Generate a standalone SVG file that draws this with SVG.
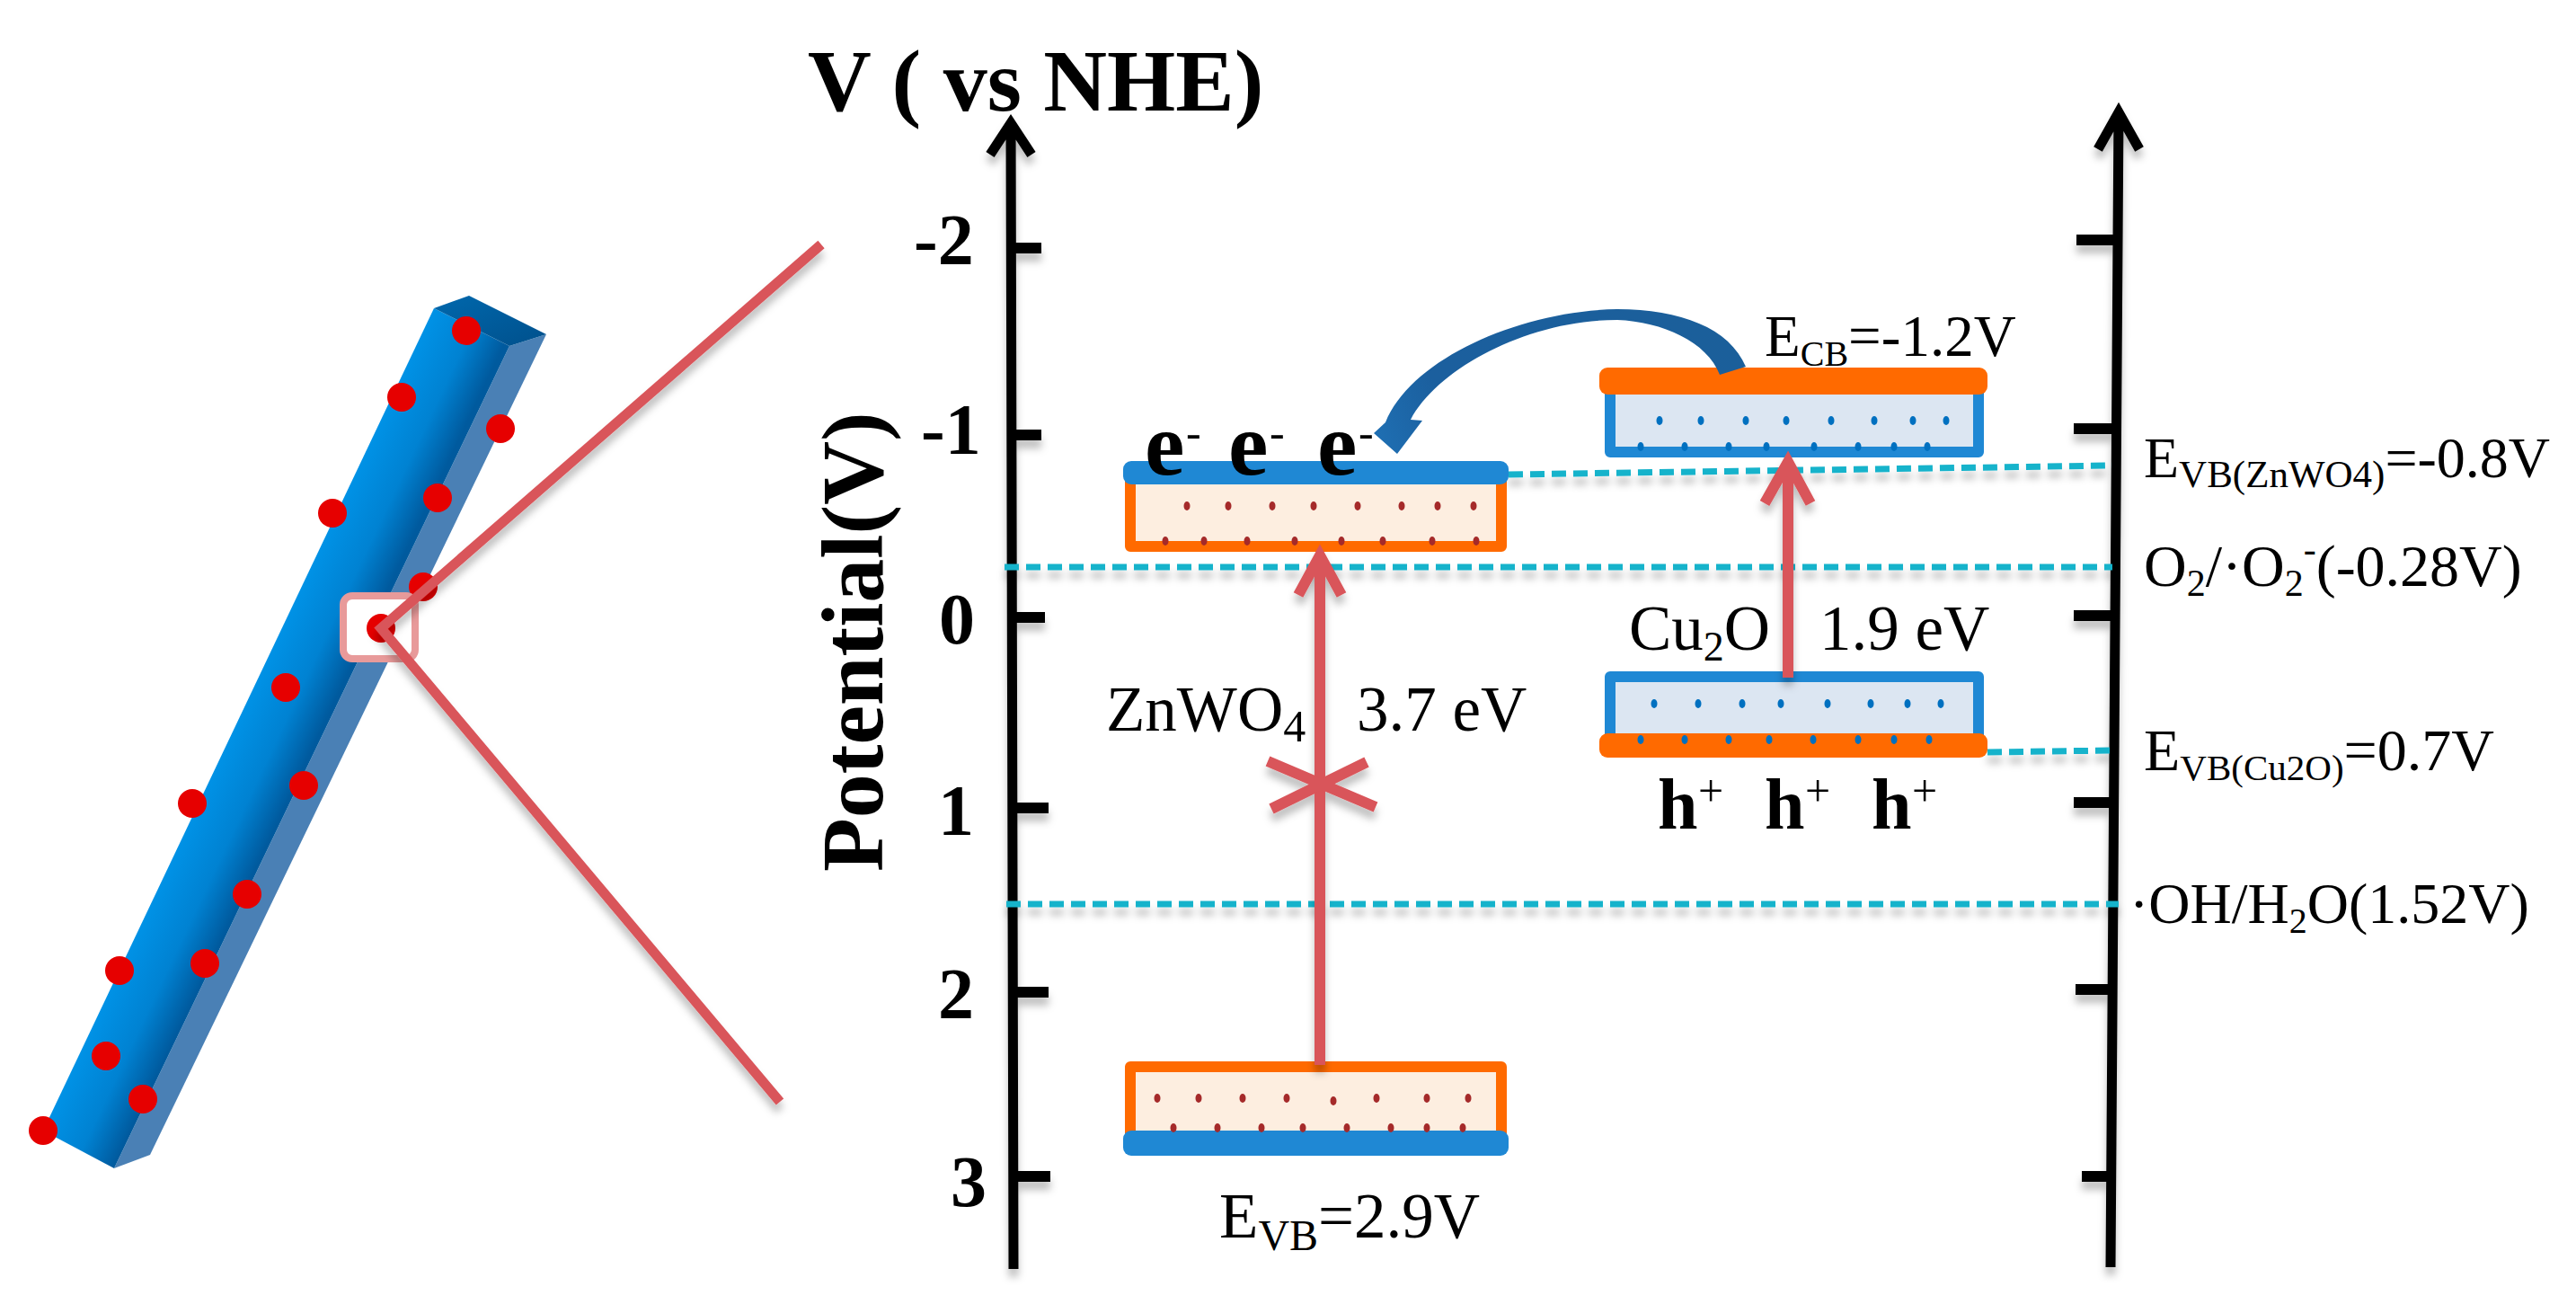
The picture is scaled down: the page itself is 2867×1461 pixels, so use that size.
<svg xmlns="http://www.w3.org/2000/svg" width="2867" height="1461" viewBox="0 0 2867 1461">
<style>
text{font-family:"Liberation Serif","Times New Roman",serif;fill:#000}
.b{font-weight:bold}
.t{font-size:80px;font-weight:bold}
.l{font-size:71px}
.e{font-size:100px;font-weight:bold}
.h{font-size:80px;font-weight:bold}
.axis{stroke:#000;stroke-width:11;fill:none}
.tick{stroke:#000;stroke-width:12;fill:none}
.red{stroke:#d9555a;stroke-width:12;fill:none}
.leader{stroke:#d9555a;stroke-width:11;fill:none}
.dash{stroke:#17b3cb;stroke-width:7;stroke-dasharray:16 8;fill:none}
.dot{fill:#e60000}
.o{fill:#ff6a00}
.bl{fill:#1f88d4}
.d1{fill:#a52a2a}
.d2{fill:#0070c0}
</style>
<defs>
<linearGradient id="rod" gradientUnits="userSpaceOnUse" x1="265" y1="800" x2="345" y2="838"><stop offset="0" stop-color="#0092e6"/><stop offset=".55" stop-color="#0082d2"/><stop offset="1" stop-color="#005a9e"/></linearGradient>
<linearGradient id="top" x1="0" y1="0" x2="1" y2="1"><stop offset="0" stop-color="#0068ad"/><stop offset="1" stop-color="#00508c"/></linearGradient>
<linearGradient id="curve" gradientUnits="userSpaceOnUse" x1="1529" y1="500" x2="1943" y2="350"><stop offset="0" stop-color="#1f70b4"/><stop offset=".2" stop-color="#1b5f9e"/><stop offset="1" stop-color="#1b5f9a"/></linearGradient>
<filter id="shl" x="-5" y="-5" width="3000" height="1500" filterUnits="userSpaceOnUse" primitiveUnits="userSpaceOnUse"><feDropShadow dx="0" dy="9" stdDeviation="4" flood-color="#000" flood-opacity=".25"/></filter>
</defs>
<rect width="2867" height="1461" fill="#fff"/>

<g id="nanorod">
<polygon points="567,385 608,372 167,1285 127,1300" fill="#4a80b5"/>
<polygon points="483,343 567,385 127,1300 48,1258" fill="url(#rod)"/>
<polygon points="483,343 522,329 608,372 567,385" fill="url(#top)"/>
<g class="dot">
<circle cx="519" cy="368" r="16"/><circle cx="447" cy="442" r="16"/><circle cx="557" cy="477" r="16"/><circle cx="487" cy="554" r="16"/><circle cx="370" cy="571" r="16"/><circle cx="471" cy="653" r="16"/><circle cx="318" cy="765" r="16"/><circle cx="338" cy="874" r="16"/><circle cx="214" cy="894" r="16"/><circle cx="275" cy="995" r="16"/><circle cx="133" cy="1080" r="16"/><circle cx="228" cy="1072" r="16"/><circle cx="118" cy="1175" r="16"/><circle cx="159" cy="1223" r="16"/><circle cx="48" cy="1258" r="16"/>
</g>
<rect x="382" y="663" width="80" height="70" rx="10" fill="#fff" stroke="#e89a9a" stroke-width="8"/>
<circle class="dot" cx="424" cy="699" r="16"/>
</g>

<g id="connectors">
<path class="leader" d="M914,272 L424,699 L868,1226" filter="url(#shl)"/>
<g id="axis-left" filter="url(#shl)">
<path class="axis" d="M1125,137 L1128,1412 M1102,172 L1125,137 L1148,172"/>
<path class="tick" d="M1128,276 H1159 M1128,484 H1159 M1128,687 H1163 M1128,899 H1167 M1128,1104 H1167 M1128,1309 H1169"/>
</g>
<g id="axis-right" filter="url(#shl)">
<path class="axis" d="M2358,125 L2349,1410 M2335,166 L2358,125 L2381,166"/>
<path class="tick" d="M2311,267 H2357 M2308,477 H2355 M2308,685 H2354 M2308,893 H2352 M2310,1101 H2351 M2317,1309 H2350"/>
</g>
<g filter="url(#shl)">
<path class="dash" d="M1679,528 L2351,518"/>
<path class="dash" d="M1118,631 H2351"/>
<path class="dash" d="M2212,837 L2351,835"/>
<path class="dash" d="M1120,1006 H2358"/>
</g>
</g>

<g id="band-znwo4-cb">
<rect x="1258" y="530" width="413" height="78" fill="#fdeee0" stroke="#ff6a00" stroke-width="12" stroke-linejoin="round"/>
<g class="d1"><ellipse cx="1321" cy="563" rx="3.5" ry="5"/><ellipse cx="1367" cy="563" rx="3.5" ry="5"/><ellipse cx="1416" cy="563" rx="3.5" ry="5"/><ellipse cx="1462" cy="563" rx="3.5" ry="5"/><ellipse cx="1511" cy="563" rx="3.5" ry="5"/><ellipse cx="1560" cy="563" rx="3.5" ry="5"/><ellipse cx="1600" cy="563" rx="3.5" ry="5"/><ellipse cx="1640" cy="563" rx="3.5" ry="5"/><ellipse cx="1297" cy="602" rx="3.5" ry="5"/><ellipse cx="1340" cy="602" rx="3.5" ry="5"/><ellipse cx="1388" cy="602" rx="3.5" ry="5"/><ellipse cx="1441" cy="602" rx="3.5" ry="5"/><ellipse cx="1493" cy="602" rx="3.5" ry="5"/><ellipse cx="1539" cy="602" rx="3.5" ry="5"/><ellipse cx="1594" cy="602" rx="3.5" ry="5"/><ellipse cx="1643" cy="602" rx="3.5" ry="5"/></g>
<rect class="bl" x="1250" y="513" width="429" height="26" rx="9"/>
</g>

<g id="band-znwo4-vb">
<rect x="1258" y="1187" width="413" height="85" fill="#fdeee0" stroke="#ff6a00" stroke-width="12" stroke-linejoin="round"/>
<g class="d1"><ellipse cx="1288" cy="1222" rx="3.5" ry="5"/><ellipse cx="1334" cy="1222" rx="3.5" ry="5"/><ellipse cx="1383" cy="1222" rx="3.5" ry="5"/><ellipse cx="1432" cy="1222" rx="3.5" ry="5"/><ellipse cx="1484" cy="1225" rx="3.5" ry="5"/><ellipse cx="1532" cy="1222" rx="3.5" ry="5"/><ellipse cx="1588" cy="1222" rx="3.5" ry="5"/><ellipse cx="1634" cy="1222" rx="3.5" ry="5"/></g>
<rect class="bl" x="1250" y="1258" width="429" height="28" rx="9"/>
<g class="d1"><ellipse cx="1306" cy="1255" rx="3.5" ry="5"/><ellipse cx="1355" cy="1255" rx="3.5" ry="5"/><ellipse cx="1404" cy="1255" rx="3.5" ry="5"/><ellipse cx="1450" cy="1255" rx="3.5" ry="5"/><ellipse cx="1499" cy="1255" rx="3.5" ry="5"/><ellipse cx="1548" cy="1255" rx="3.5" ry="5"/><ellipse cx="1588" cy="1255" rx="3.5" ry="5"/><ellipse cx="1628" cy="1255" rx="3.5" ry="5"/></g>
</g>

<g id="band-cu2o-cb">
<rect x="1792" y="425" width="410" height="78" fill="#dce6f2" stroke="#1f88d4" stroke-width="12" stroke-linejoin="round"/>
<g class="d2"><ellipse cx="1847" cy="468" rx="3.5" ry="5"/><ellipse cx="1893" cy="468" rx="3.5" ry="5"/><ellipse cx="1943" cy="468" rx="3.5" ry="5"/><ellipse cx="1988" cy="468" rx="3.5" ry="5"/><ellipse cx="2038" cy="468" rx="3.5" ry="5"/><ellipse cx="2086" cy="468" rx="3.5" ry="5"/><ellipse cx="2129" cy="468" rx="3.5" ry="5"/><ellipse cx="2166" cy="468" rx="3.5" ry="5"/><ellipse cx="1826" cy="497" rx="3.5" ry="5"/><ellipse cx="1875" cy="497" rx="3.5" ry="5"/><ellipse cx="1924" cy="497" rx="3.5" ry="5"/><ellipse cx="1966" cy="497" rx="3.5" ry="5"/><ellipse cx="2019" cy="497" rx="3.5" ry="5"/><ellipse cx="2068" cy="497" rx="3.5" ry="5"/><ellipse cx="2108" cy="497" rx="3.5" ry="5"/><ellipse cx="2145" cy="497" rx="3.5" ry="5"/></g>
<rect class="o" x="1780" y="409" width="432" height="30" rx="9"/>
</g>

<g id="band-cu2o-vb">
<rect x="1792" y="753" width="410" height="74" fill="#dce6f2" stroke="#1f88d4" stroke-width="12" stroke-linejoin="round"/>
<g class="d2"><ellipse cx="1841" cy="783" rx="3.5" ry="5"/><ellipse cx="1890" cy="783" rx="3.5" ry="5"/><ellipse cx="1939" cy="783" rx="3.5" ry="5"/><ellipse cx="1982" cy="783" rx="3.5" ry="5"/><ellipse cx="2034" cy="783" rx="3.5" ry="5"/><ellipse cx="2082" cy="783" rx="3.5" ry="5"/><ellipse cx="2123" cy="783" rx="3.5" ry="5"/><ellipse cx="2160" cy="783" rx="3.5" ry="5"/></g>
<rect class="o" x="1780" y="816" width="432" height="27" rx="9"/>
<g class="d2"><ellipse cx="1826" cy="823" rx="3.5" ry="5"/><ellipse cx="1875" cy="823" rx="3.5" ry="5"/><ellipse cx="1924" cy="823" rx="3.5" ry="5"/><ellipse cx="1969" cy="823" rx="3.5" ry="5"/><ellipse cx="2018" cy="823" rx="3.5" ry="5"/><ellipse cx="2068" cy="823" rx="3.5" ry="5"/><ellipse cx="2108" cy="823" rx="3.5" ry="5"/><ellipse cx="2147" cy="823" rx="3.5" ry="5"/></g>
</g>

<g id="arrows">
<g filter="url(#shl)">
<path class="red" d="M1469,1185 V618 M1445,662 L1469,618 L1493,662"/>
<path class="red" d="M1411,847 L1531,898 M1415,900 L1521,848"/>
<path class="red" d="M1990,754 V514 M1964,560 L1990,514 L2015,560"/>
</g>
<path d="M1943,408 C1925,365 1870,344 1800,344 C1690,346 1570,400 1542,470 L1529,482 L1555,505 L1583,468 L1570,467 C1600,410 1700,356 1800,356 C1850,358 1900,380 1914,417 Z" fill="url(#curve)"/>
</g>

<g id="labels">
<text class="b" x="899" y="123" font-size="98" xml:space="preserve">V ( vs NHE)</text>
<text class="b" transform="translate(982,970) rotate(-90)" font-size="98">Potential(V)</text>
<text class="t" x="1017" y="294">-2</text>
<text class="t" x="1025" y="505">-1</text>
<text class="t" x="1045" y="716">0</text>
<text class="t" x="1044" y="929">1</text>
<text class="t" x="1044" y="1133">2</text>
<text class="t" x="1058" y="1342">3</text>
<text class="e" x="1274" y="528">e</text><text x="1320" y="498" font-size="50">-</text>
<text class="e" x="1367" y="528">e</text><text x="1413" y="498" font-size="50">-</text>
<text class="e" x="1466" y="528">e</text><text x="1512" y="498" font-size="50">-</text>
<text class="h" x="1845" y="922">h</text><text x="1890" y="897" font-size="50">+</text>
<text class="h" x="1964" y="922">h</text><text x="2009" y="897" font-size="50">+</text>
<text class="h" x="2083" y="922">h</text><text x="2128" y="897" font-size="50">+</text>
<text class="l" x="1231" y="813">ZnWO<tspan font-size="50" dy="12">4</tspan></text>
<text class="l" x="1510" y="813">3.7 eV</text>
<text class="l" x="1813" y="723">Cu<tspan font-size="46" dy="12">2</tspan><tspan dy="-12">O</tspan></text>
<text class="l" x="2025" y="723">1.9 eV</text>
<text x="1964" y="396" font-size="65">E<tspan font-size="40" dy="11">CB</tspan><tspan dy="-11">=-1.2V</tspan></text>
<text x="1357" y="1377" font-size="71">E<tspan font-size="48" dy="14">VB</tspan><tspan dy="-14">=2.9V</tspan></text>
<text x="2386" y="531" font-size="64">E<tspan font-size="43" dy="11">VB(ZnWO4)</tspan><tspan dy="-11">=-0.8V</tspan></text>
<text x="2386" y="652" font-size="66">O<tspan font-size="42" dy="11">2</tspan><tspan dy="-11">/·O</tspan><tspan font-size="42" dy="11">2</tspan><tspan font-size="42" dy="-38">-</tspan><tspan dy="27">(-0.28V)</tspan></text>
<text x="2386" y="857" font-size="66">E<tspan font-size="41" dy="11">VB(Cu2O)</tspan><tspan dy="-11">=0.7V</tspan></text>
<text x="2370" y="1027" font-size="64">·OH/H<tspan font-size="40" dy="11">2</tspan><tspan dy="-11">O(1.52V)</tspan></text>
</g>
</svg>
